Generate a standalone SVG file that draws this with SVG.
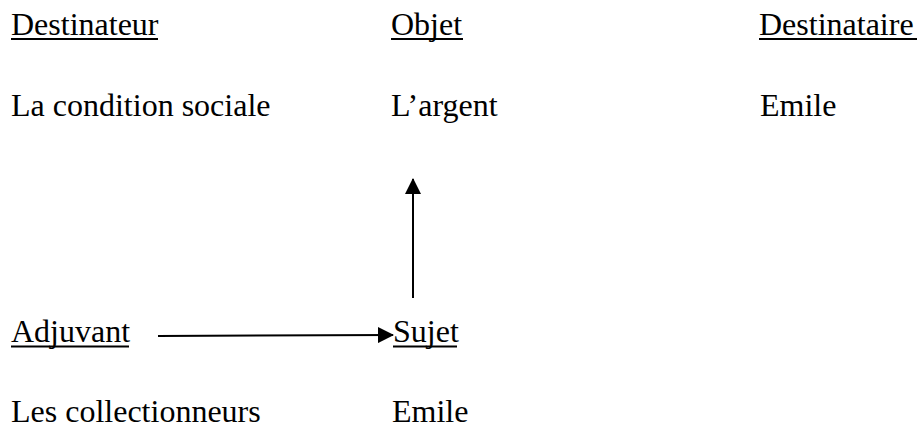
<svg xmlns="http://www.w3.org/2000/svg" width="917" height="427" viewBox="0 0 917 427">
<style>
text{font-family:'Liberation Serif','Times New Roman','DejaVu Serif',serif;font-size:32px;fill:#000}
.u{stroke:#000;stroke-width:2}
.c{stroke:#000;stroke-width:2;fill:none}
</style>
<defs>
<marker id="ah2" markerWidth="16" markerHeight="16" refX="15" refY="8" orient="auto" markerUnits="userSpaceOnUse" viewBox="0 0 16 16">
<path d="M0,0 L16,8 L0,16 z" fill="#000"/>
</marker>
</defs>
<rect width="917" height="427" fill="#fff"/>
<g id="destinateur"><text x="11" y="35">Destinateur</text><line class="u" x1="11" y1="39" x2="158" y2="39"/></g>
<g id="objet"><text x="391" y="35">Objet</text><line class="u" x1="391" y1="39" x2="463" y2="39"/></g>
<g id="destinataire"><text x="759" y="35">Destinataire</text><line class="u" x1="759" y1="39" x2="917" y2="39"/></g>
<g id="condition"><text x="11" y="116">La condition sociale</text></g>
<g id="argent"><text x="391" y="116">L’argent</text></g>
<g id="emile1"><text x="760" y="116">Emile</text></g>
<g id="adjuvant"><text x="11" y="342">Adjuvant</text><line class="u" x1="11" y1="346.5" x2="129" y2="346.5"/></g>
<g id="sujet"><text x="393" y="342">Sujet</text><line class="u" x1="393" y1="346.5" x2="457" y2="346.5"/></g>
<g id="collectionneurs"><text x="11" y="422">Les collectionneurs</text></g>
<g id="emile2"><text x="392" y="422">Emile</text></g>
<g id="connectors">
<line class="c" x1="158" y1="336" x2="393" y2="335" marker-end="url(#ah2)"/>
<line class="c" x1="413" y1="298" x2="413" y2="179" marker-end="url(#ah2)"/>
</g>
</svg>
